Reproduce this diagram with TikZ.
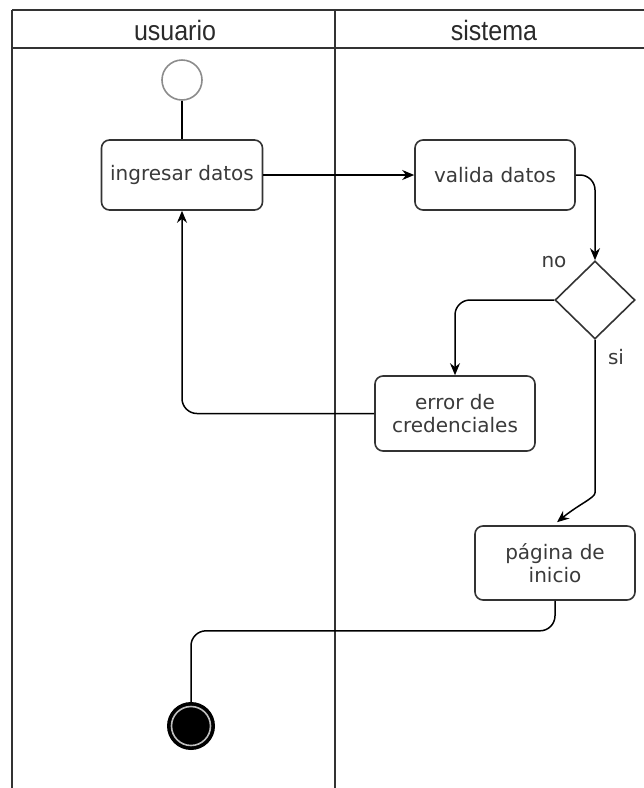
\documentclass[tikz,border=0pt]{standalone}
\usepackage{fontspec}
\usetikzlibrary{shapes.geometric,arrows.meta}
\newfontfamily\headfont{Liberation Sans}
\newfontfamily\boxfont{DejaVu Sans}
\definecolor{ink}{HTML}{333333}
\definecolor{txt}{HTML}{3A3A3A}
\definecolor{headink}{HTML}{2A2A2A}
\begin{document}
\begin{tikzpicture}[x=1pt,y=-1pt,
  lane/.style={draw=ink,line width=1.6pt},
  headtext/.style={font=\headfont\fontsize{25}{28}\selectfont,text=headink,
    yscale=1.12,transform shape},
  action/.style={draw=ink,line width=1.6pt,rounded corners=8pt,fill=white,
    minimum width=160pt,minimum height=70pt,align=center,inner sep=0pt,
    font=\boxfont\fontsize{20}{23}\selectfont,text=txt},
  decision/.style={draw=ink,line width=1.6pt,shape=diamond,fill=white,
    minimum width=80pt,minimum height=78pt,inner sep=0pt},
  guard/.style={font=\boxfont\fontsize{20}{23}\selectfont,text=txt},
  flow/.style={draw=black,line width=1.5pt,rounded corners=15pt},
  tip/.style={-{Stealth[length=12pt,width=10pt]}}
]
\useasboundingbox (0,0) rectangle (644,788);

% swimlane frame
\draw[lane] (12,10) -- (644,10);
\draw[lane] (12,48) -- (644,48);
\draw[lane] (12,10) -- (12,788);
\draw[lane] (335,10) -- (335,788);
\node[headtext] (hUser) at (175,30) {usuario};
\node[headtext] (hSys) at (494,30) {sistema};

% activity nodes
\node[circle,draw=black!45,line width=1.6pt,fill=white,minimum size=40pt,inner sep=0pt] (start) at (182,80) {};
\node[action,minimum width=161pt] (ing) at (182,175) {ingresar datos};
\node[action] (val) at (495,175) {valida datos};
\node[decision] (dec) at (595,300) {};
\node[action,minimum height=75pt] (err) at (455,413.5) {error de\\credenciales};
\node[action,minimum height=74pt] (pag) at (555,563) {página de\\inicio};
\node[circle,fill=black,minimum size=48pt,inner sep=0pt] (fin) at (191,726) {};
\draw[white!75!black,line width=1.6pt] (fin.center) circle[radius=19.5pt];

% guard labels
\node[guard] (lblNo) at (554,262) {no};
\node[guard] (lblSi) at (616,357) {si};

% control flow
\draw[flow] (start.south) -- (ing.north);
\draw[flow,tip] (ing.east) -- (val.west);
\draw[flow,tip] (val.east) -| (dec.north);
\draw[flow,tip] (dec.west) -| (err.north);
\draw[flow,tip] (err.west) -| (ing.south);
\coordinate (pagIn) at ([xshift=2pt,yshift=3pt]pag.north);
\draw[flow,tip] (dec.south) -- ++(0,138) .. controls +(0,20) and +(22,-18) .. (pagIn);
\draw[flow] (pag.south) -- ++(0,30) -| (fin.north);
\end{tikzpicture}
\end{document}
